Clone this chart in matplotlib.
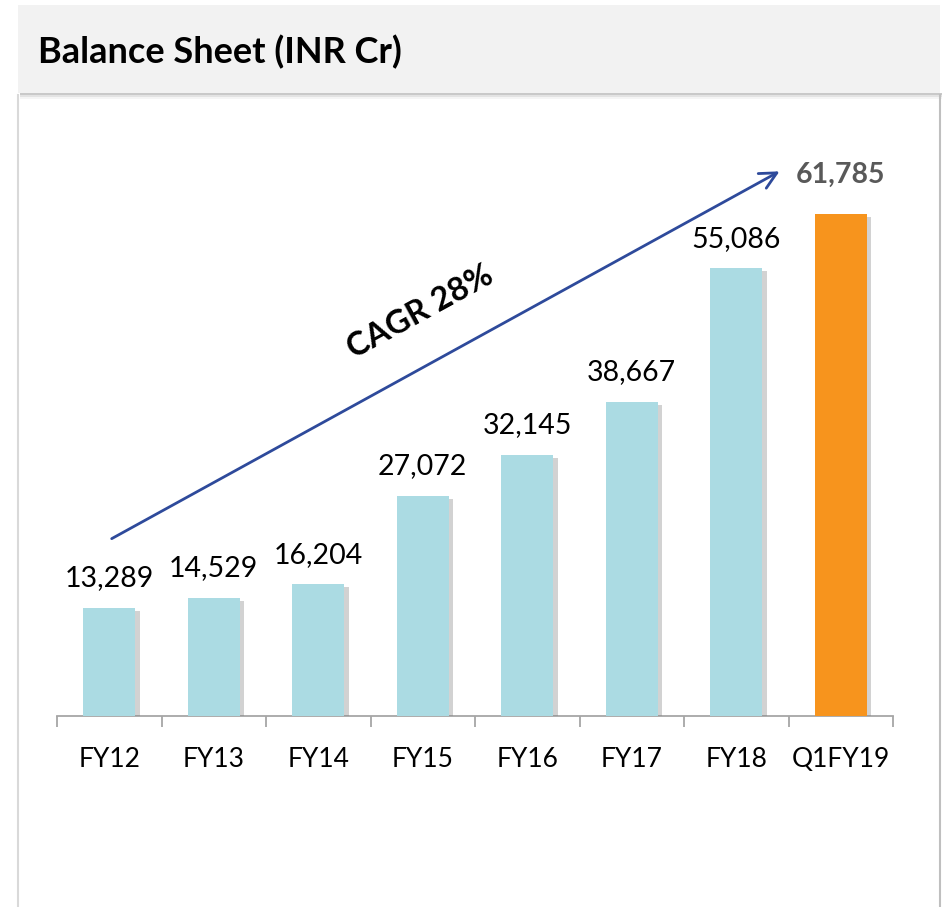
import matplotlib
matplotlib.use("Agg")
import matplotlib.pyplot as plt
from matplotlib.patches import Rectangle, FancyArrowPatch
import matplotlib.patheffects as pe

categories = ["FY12", "FY13", "FY14", "FY15", "FY16", "FY17", "FY18", "Q1FY19"]
values = [13289, 14529, 16204, 27072, 32145, 38667, 55086, 61785]
title = "Balance Sheet (INR Cr)"
cagr_text = "CAGR 28%"

W, H = 948, 907
fig = plt.figure(figsize=(W / 100, H / 100), dpi=100)
fig.patch.set_facecolor("white")
FONT = "Lato"

def fx(px):
    return px / W

def fy(py):
    return 1 - py / H

# panel borders
fig.add_artist(plt.Line2D([fx(18), fx(18)], [fy(95), 0], color="#d9d9d9", lw=1.5))
fig.add_artist(plt.Line2D([fx(940), fx(940)], [fy(95), 0], color="#bfbfbf", lw=1.5))

# title banner with shadow
for i, a in enumerate([0.25, 0.15, 0.08]):
    fig.add_artist(Rectangle((fx(20), fy(93 + 2 * (i + 1))), fx(922), fy(93) - fy(93 + 2 * (i + 1)),
                             facecolor="gray", edgecolor="none", alpha=a))
fig.add_artist(Rectangle((fx(18), fy(93)), fx(922), fy(5) - fy(93),
                         facecolor="#f2f2f2", edgecolor="none"))
fig.text(fx(38), fy(52), title, fontsize=26, fontweight="bold", family=FONT,
         va="center", ha="left", color="black")

# axes
ax_left, ax_right = 57, 893
ax_top, ax_bottom = 130, 716
ax = fig.add_axes([fx(ax_left), fy(ax_bottom), fx(ax_right - ax_left), fy(ax_top) - fy(ax_bottom)])
ax.set_facecolor("none")
px_per_unit = (716 - 608) / 13289
ymax = (ax_bottom - ax_top) / px_per_unit
ax.set_ylim(0, ymax)
ax.set_xlim(-0.5, len(categories) - 0.5)

x = list(range(len(categories)))
colors = ["#abdbe3"] * (len(categories) - 1) + ["#f7941d"]
bars = ax.bar(x, values, width=0.5, color=colors, zorder=3)
for b in bars:
    b.set_path_effects([pe.SimplePatchShadow(offset=(3, -2), shadow_rgbFace="#7f7f7f", alpha=0.35), pe.Normal()])

for i, v in enumerate(values):
    last = i == len(values) - 1
    ax.annotate(f"{v:,}", (i, v), xytext=(0, 12 if not last else 19), textcoords="offset points",
                ha="center", va="bottom", fontsize=20.5, family=FONT,
                fontweight="bold" if last else "normal",
                color="#595959" if last else "black")

for s in ["top", "right", "left"]:
    ax.spines[s].set_visible(False)
ax.spines["bottom"].set_color("#a6a6a6")
ax.spines["bottom"].set_linewidth(1.3)
ax.set_yticks([])
ax.set_xticks(x)
ax.set_xticklabels(categories, fontsize=19, family=FONT)
ax.tick_params(axis="x", which="major", length=0, pad=22)
ax.set_xticks([i - 0.5 for i in range(len(categories) + 1)], minor=True)
ax.tick_params(axis="x", which="minor", length=8, color="#a6a6a6", width=1.3)

# CAGR arrow (in data coordinates)
x0, y0 = 0, (716 - 540) / px_per_unit
x1, y1 = (782 - 57) / 104.5 - 0.5, (716 - 170) / px_per_unit
arrow = FancyArrowPatch((x0, y0), (x1, y1), arrowstyle="->,head_length=12,head_width=6",
                        color="#2e4a9b", lw=2, mutation_scale=1, zorder=5, clip_on=False)
ax.add_patch(arrow)
ax.text((420 - 57) / 104.5 - 0.5, (716 - 312) / px_per_unit, cagr_text, rotation=28.7,
        rotation_mode="anchor", ha="center", va="center", fontsize=23.5, fontweight="bold",
        family=FONT, color="black")

fig.savefig("out.png", dpi=100, facecolor="white")
